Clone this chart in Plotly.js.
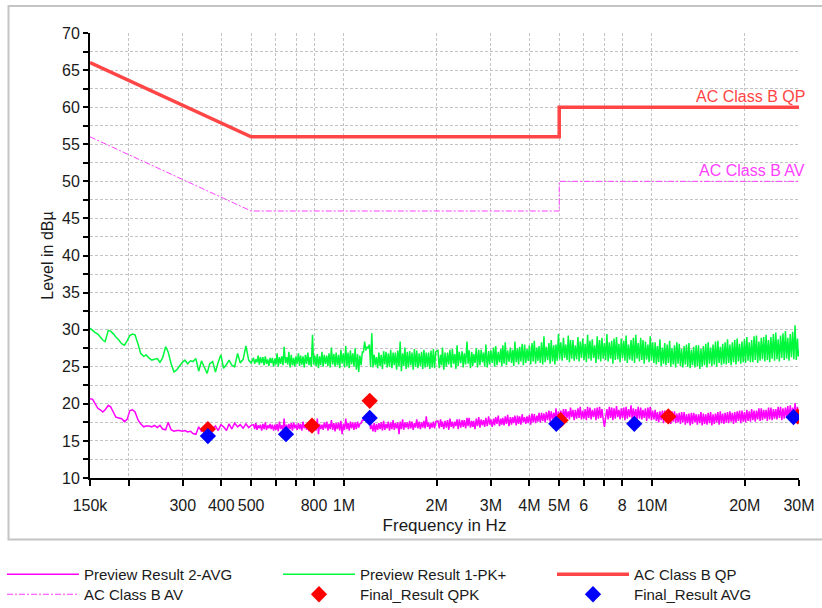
<!DOCTYPE html>
<html>
<head>
<meta charset="utf-8">
<script src="https://cdn.plot.ly/plotly-3.0.1.min.js"></script>
<style>
  html, body { margin: 0; padding: 0; background: #ffffff; }
  #chart { width: 822px; height: 608px; }
</style>
</head>
<body>
<div id="chart"></div>
<script>
// ---------- data (frequency in MHz, level in dBµV) ----------
const freqMHz = [
  0.150,0.153,0.156,0.159,0.162,0.165,0.168,0.172,0.175,0.179,
  0.182,0.186,0.190,0.194,0.198,0.202,0.206,0.210,0.215,0.219,
  0.224,0.228,0.233,0.238,0.243,0.248,0.253,0.258,0.264,0.269,
  0.275,0.281,0.287,0.293,0.299,0.305,0.311,0.318,0.324,0.331,
  0.338,0.345,0.352,0.360,0.367,0.375,0.383,0.391,0.399,0.407,
  0.416,0.424,0.433,0.442,0.452,0.461,0.471,0.481,0.491,0.500,
  0.509,0.518,0.527,0.536,0.546,0.556,0.566,0.576,0.586,0.597,
  0.607,0.618,0.629,0.640,0.652,0.663,0.675,0.687,0.699,0.712,
  0.724,0.737,0.750,0.764,0.777,0.791,0.805,0.820,0.834,0.849,
  0.864,0.880,0.895,0.911,0.928,0.944,0.961,0.978,0.996,1.014,
  1.032,1.050,1.069,1.088,1.108,1.127,1.148,1.168,1.189,1.210,
  1.232,1.254,1.276,1.299,1.322,1.346,1.370,1.394,1.419,1.445,
  1.470,1.497,1.523,1.551,1.578,1.606,1.635,1.664,1.694,1.724,
  1.755,1.787,1.819,1.851,1.884,1.918,1.952,1.987,
  2.02,2.06,2.09,2.13,2.17,2.21,2.25,2.29,2.33,2.37,
  2.42,2.46,2.51,2.55,2.60,2.64,2.69,2.74,2.79,2.84,
  2.89,2.95,3.00,3.06,3.11,3.17,3.23,3.28,3.34,3.40,
  3.47,3.53,3.59,3.66,3.72,3.79,3.86,3.93,4.00,4.08,
  4.15,4.23,4.30,4.38,4.46,4.54,4.63,4.71,4.80,4.88,
  4.97,5.06,5.16,5.25,5.35,5.44,5.54,5.64,5.75,5.85,
  5.96,6.07,6.18,6.29,6.40,6.52,6.64,6.76,6.88,7.01,
  7.14,7.27,7.40,7.53,7.67,7.81,7.95,8.10,8.24,8.39,
  8.55,8.70,8.86,9.02,9.19,9.35,9.52,9.70,9.87,10.05,
  10.24,10.42,10.61,10.81,11.00,11.20,11.41,11.61,11.83,12.04,
  12.26,12.48,12.71,12.94,13.18,13.42,13.66,13.91,14.16,14.42,
  14.68,14.95,15.22,15.50,15.78,16.07,16.36,16.66,16.96,17.27,
  17.58,17.90,18.23,18.56,18.90,19.24,19.59,19.95,20.31,20.68,
  21.06,21.44,21.83,22.23,22.63,23.04,23.46,23.89,24.32,24.77,
  25.22,25.67,26.14,26.62,27.10,27.59,28.10,28.61,29.13,29.66,
  30.00
];

// Preview Result 1-PK+ (green)
const pkPlus = [
  30.2,29.9,29.6,29.4,29.0,28.6,28.4,29.9,29.8,29.4,
  29.0,28.6,28.1,27.9,28.5,29.2,29.4,29.3,28.0,26.8,
  26.4,26.6,26.2,25.9,26.0,26.1,25.6,26.2,27.7,27.0,
  25.4,24.3,24.6,25.1,25.6,25.9,25.4,25.8,25.7,26.1,
  24.4,25.8,25.0,24.1,25.4,25.7,24.3,25.6,26.6,24.8,
  25.3,25.9,25.2,25.0,26.8,25.5,26.0,27.8,25.9,25.5,
  26.2,26.0,26.5,26.3,26.3,26.4,26.0,26.2,26.2,26.1,
  26.8,26.3,26.4,27.7,26.3,27.0,26.6,26.2,26.4,26.8,
  26.5,26.4,26.6,26.9,26.3,29.3,26.5,26.7,26.4,27.0,
  26.6,26.5,26.8,27.6,26.7,26.9,26.6,27.3,26.8,27.8,
  26.9,27.2,26.8,27.5,26.7,26.5,27.0,28.4,27.7,28.0,
  29.5,26.6,26.3,26.9,26.6,27.1,27.0,26.8,27.3,26.9,
  26.9,27.2,28.4,26.8,27.6,27.0,27.1,26.9,27.4,27.2,
  26.8,27.0,27.3,26.9,26.9,27.2,27.4,27.0,
  27.2,26.6,27.6,26.9,26.9,27.3,27.4,26.7,27.9,27.0,
  27.1,26.8,28.4,27.2,27.0,26.7,27.5,27.3,27.3,26.9,
  28.0,27.1,27.2,27.6,27.8,27.0,27.4,27.9,28.3,27.2,
  27.6,27.3,28.4,27.5,27.7,28.1,28.0,27.4,27.9,28.2,
  28.5,27.6,27.8,28.3,29.1,27.7,28.2,28.6,27.9,28.0,
  29.4,28.3,28.9,28.0,29.2,28.6,28.6,27.9,29.0,28.4,
  28.8,28.1,29.3,28.5,28.7,27.9,29.1,28.6,28.9,28.2,
  29.4,28.3,28.5,28.8,29.0,28.1,28.8,28.5,29.2,28.0,
  28.6,28.9,29.3,28.2,28.9,28.6,28.4,28.0,29.1,28.3,
  28.3,27.8,28.7,27.6,28.2,28.0,28.5,27.5,27.9,28.3,
  28.1,27.4,27.8,28.0,28.2,27.3,27.7,27.9,27.9,27.4,
  27.8,28.1,28.3,27.6,28.0,28.4,28.5,27.7,28.1,28.3,
  28.7,28.0,28.3,28.6,28.8,28.1,28.4,28.7,29.0,28.3,
  28.6,29.1,29.2,28.4,28.9,29.0,29.3,28.6,29.0,29.4,
  29.6,28.7,29.2,29.5,29.8,28.9,29.4,29.7,30.6,28.8,
  27.3
];

// Preview Result 2-AVG (magenta)
const avgLevel = [
  20.7,20.6,20.0,19.4,19.2,18.9,19.2,19.8,19.6,18.8,
  18.2,18.1,18.0,17.6,17.9,19.1,19.2,18.9,17.8,17.3,
  16.9,17.0,17.0,16.9,17.1,16.8,17.1,16.6,16.5,17.5,
  16.5,16.3,16.4,16.4,16.3,16.4,16.2,16.3,16.0,15.9,
  16.9,16.3,16.7,16.5,16.8,16.6,17.0,16.4,17.2,16.9,
  16.4,17.3,16.6,17.4,16.9,17.2,16.7,17.3,16.8,17.1,
  17.2,17.4,17.1,17.2,17.3,17.5,17.1,17.3,17.2,17.2,
  17.3,17.6,17.1,18.0,17.2,17.3,17.4,17.5,17.2,17.4,
  17.3,17.6,17.2,17.3,17.4,17.5,17.2,18.0,17.3,17.2,
  17.5,17.6,17.3,17.8,17.4,17.4,17.5,17.7,17.3,18.0,
  17.4,17.6,17.5,17.5,17.6,17.3,17.8,18.3,18.5,18.2,
  17.2,17.4,17.3,17.4,17.5,17.7,17.3,17.6,17.5,17.8,
  17.4,17.5,17.6,17.9,17.5,17.5,17.7,17.6,17.4,17.9,
  17.6,17.5,17.7,18.3,17.5,17.4,17.6,17.6,
  17.7,17.9,17.6,17.7,17.8,18.0,17.6,17.6,17.9,17.9,
  17.8,17.8,18.1,18.1,17.7,17.7,18.0,18.2,17.9,17.8,
  18.1,18.3,17.9,18.0,18.2,18.4,18.0,18.1,18.3,18.5,
  18.2,18.2,18.4,18.4,18.3,18.6,18.2,18.3,18.5,18.7,
  18.6,18.4,18.8,18.8,18.7,18.9,19.1,19.0,18.8,19.4,
  19.0,19.1,19.3,19.3,19.0,19.5,19.2,19.2,19.4,19.6,
  19.1,19.3,19.6,19.5,19.2,19.4,19.5,19.6,19.3,16.9,
  19.3,19.6,19.5,19.4,19.7,19.2,19.4,19.5,19.6,19.3,
  19.8,19.4,19.3,19.6,19.5,19.2,19.4,19.5,19.6,19.1,
  19.2,18.9,19.0,19.1,19.1,18.8,18.9,19.0,19.0,18.7,
  18.8,18.9,18.9,18.6,18.7,18.8,18.8,18.6,18.6,18.9,
  18.7,18.6,18.8,18.9,18.6,18.7,18.9,19.0,18.7,18.8,
  18.9,19.0,18.8,18.9,19.0,19.1,19.1,18.9,19.2,19.0,
  19.3,19.1,19.1,19.4,19.4,19.2,19.2,19.5,19.5,19.3,
  19.3,19.6,19.6,19.4,19.5,19.7,19.8,19.5,20.1,19.6,
  18.9
];

// Further scan points read in the dense part of the sweep (0.5–30 MHz)
const freqExtraMHz = [
  0.5135,0.5225,0.5315,0.541,0.551,0.561,0.571,0.581,0.5915,
  0.602,0.6125,0.6235,0.6345,0.646,0.6575,0.669,0.681,0.693,0.7055,
  0.718,0.7305,0.7435,0.757,0.7705,0.784,0.798,0.8125,0.827,0.8415,
  0.8565,0.872,0.8875,0.903,0.9195,0.936,0.9525,0.9695,0.987,1.005,
  1.023,1.041,1.0595,1.0785,1.098,1.1175,1.1375,1.158,1.1785,1.1995,
  1.221,1.243,1.265,1.2875,1.3105,1.334,1.358,1.382,1.4065,1.432,
  1.4575,1.4835,1.51,1.537,1.5645,1.592,1.6205,1.6495,1.679,1.709,
  1.7395,1.771,1.803,1.835,1.8675,1.901,1.935,1.9695,
  2.04,2.075,2.11,2.15,2.19,2.23,2.27,2.31,2.35,2.395,
  2.44,2.485,2.53,2.575,2.62,2.665,2.715,2.765,2.815,2.865,
  2.92,2.975,3.03,3.085,3.14,3.20,3.255,3.31,3.37,3.435,
  3.50,3.56,3.625,3.69,3.755,3.825,3.895,3.965,4.04,4.115,
  4.19,4.265,4.34,4.42,4.50,4.585,4.67,4.755,4.84,4.925,
  5.015,5.11,5.205,5.30,5.395,5.49,5.59,5.695,5.80,5.905,
  6.015,6.125,6.235,6.345,6.46,6.58,6.70,6.82,6.945,7.075,
  7.205,7.335,7.465,7.60,7.74,7.88,8.025,8.17,8.315,8.47,
  8.625,8.78,8.94,9.105,9.27,9.435,9.61,9.785,9.96,10.145,
  10.33,10.515,10.71,10.905,11.10,11.305,11.51,11.72,11.935,12.15,
  12.37,12.595,12.825,13.06,13.30,13.54,13.785,14.035,14.29,14.55,
  14.815,15.085,15.36,15.64,15.925,16.215,16.51,16.81,17.115,17.425,
  17.74,18.065,18.395,18.73,19.07,19.415,19.77,20.13,20.495,20.87,
  21.25,21.635,22.03,22.43,22.835,23.25,23.675,24.105,24.545,24.995,
  25.445,25.905,26.38,26.86,27.345,27.845,28.355,28.87,29.395,29.83
];

const pkPlusExtra = [
  25.4,25.6,25.3,25.5,25.2,25.4,25.1,25.5,25.0,
  25.3,25.0,25.4,25.2,25.5,25.3,24.9,25.2,25.0,25.4,
  25.1,25.3,24.9,25.4,25.2,25.0,25.3,25.1,24.8,25.2,
  25.0,25.4,25.1,24.9,25.3,25.0,25.2,24.8,25.4,24.9,
  25.1,24.8,25.3,25.0,24.6,24.3,25.2,27.0,27.2,27.5,
  25.0,24.9,25.2,24.8,25.1,24.7,25.3,24.9,25.0,24.8,
  25.2,24.6,25.0,24.4,25.1,24.7,24.9,25.2,24.6,25.0,
  24.8,25.1,24.7,24.9,25.0,24.7,24.9,24.8,
  24.8,25.2,24.6,25.0,25.3,24.9,25.4,24.7,25.1,25.5,
  24.9,25.3,25.4,24.8,25.1,25.5,24.9,25.2,25.6,25.0,
  24.9,25.3,25.5,25.0,25.2,25.6,25.1,25.4,25.2,25.7,
  25.5,25.1,25.6,25.3,25.7,25.2,25.5,25.8,25.3,25.7,
  25.4,25.8,25.5,25.3,25.6,25.9,25.4,25.7,25.3,25.8,
  26.0,25.8,26.2,25.9,25.6,26.1,25.8,26.0,25.7,26.2,
  25.9,25.6,26.1,25.8,26.2,25.5,26.0,25.7,26.1,25.9,
  25.7,26.1,25.4,25.9,26.0,25.6,26.2,25.8,25.5,26.0,
  25.8,25.5,26.1,25.7,25.9,25.4,26.0,25.6,25.8,25.5,
  25.3,25.6,25.1,25.4,25.2,25.5,25.0,25.3,24.9,25.4,
  25.1,24.9,25.3,25.0,24.8,25.2,24.9,25.1,24.7,25.0,
  25.2,24.9,25.4,25.1,25.3,25.0,25.5,25.2,25.4,25.3,
  25.5,25.2,25.6,25.3,25.7,25.4,25.6,25.5,25.8,25.6,
  25.6,25.9,25.5,25.8,26.0,25.7,25.9,25.6,26.1,25.8,
  26.0,25.7,26.2,25.9,26.1,25.8,26.3,26.0,25.9,26.4
];

const avgLevelExtra = [
  16.6,16.5,16.7,16.4,16.6,16.5,16.7,16.6,16.4,
  16.5,16.3,16.6,16.4,16.2,16.5,16.6,16.4,16.7,16.5,
  16.6,16.4,16.7,16.5,16.3,16.6,16.5,16.4,15.9,16.6,
  16.5,16.7,16.4,16.6,16.5,16.3,16.6,16.4,15.9,16.5,
  16.6,16.4,16.7,16.5,16.6,16.8,17.4,17.8,18.0,17.6,
  16.6,16.3,16.2,16.5,16.6,16.4,16.5,16.7,16.4,16.6,
  16.5,16.7,15.9,16.6,16.5,16.8,16.6,16.7,16.5,16.8,
  16.7,16.6,16.8,16.7,16.9,16.6,16.8,16.7,
  16.7,16.9,16.6,16.8,16.5,16.9,16.7,17.0,16.6,16.8,
  16.9,16.7,17.0,16.8,16.9,16.6,17.0,16.8,17.1,16.9,
  17.0,17.2,16.9,17.1,17.3,17.0,17.2,17.1,17.3,17.0,
  17.2,17.4,17.1,17.3,17.2,17.5,17.3,17.4,17.2,17.5,
  17.4,17.6,17.5,17.7,17.5,17.8,17.6,17.9,17.7,17.6,
  17.9,18.0,17.8,18.1,17.9,18.2,17.8,18.0,18.1,17.9,
  18.0,17.8,18.1,17.9,18.2,17.8,18.0,18.1,17.9,18.2,
  17.9,18.1,17.8,18.0,18.2,17.9,18.1,17.8,18.0,18.2,
  17.9,18.1,17.8,18.0,17.9,18.1,17.7,18.0,17.8,17.9,
  17.7,17.5,17.8,17.4,17.6,17.5,17.3,17.6,17.4,17.5,
  17.3,17.5,17.2,17.4,17.1,17.3,17.5,17.2,17.4,17.1,
  17.3,17.2,17.4,17.1,17.3,17.5,17.2,17.4,17.3,17.5,
  17.4,17.6,17.3,17.5,17.7,17.4,17.6,17.5,17.7,17.6,
  17.8,17.6,17.9,17.7,17.8,18.0,17.7,17.9,17.8,18.0,
  17.9,18.1,17.8,18.0,18.2,17.9,18.1,18.0,18.2,18.1
];

// Limit lines
const limitFreqMHz = [0.15, 0.5, 5, 5, 30];
const limitQP = [66, 56, 56, 60, 60];
const limitAV = [56, 46, 46, 50, 50];

// Final results
const qpkFreqMHz = [0.362, 0.788, 1.213, 5.05, 11.3, 29.7];
const qpkLevel = [16.6, 17.05, 20.4, 17.8, 18.3, 18.3];
const avgFreqMHz = [0.362, 0.649, 1.213, 4.89, 8.76, 28.8];
const avgFinalLevel = [15.66, 15.9, 18.1, 17.3, 17.3, 18.2];

// Axis ticks
const xTickVals = [0.15,0.2,0.3,0.4,0.5,0.6,0.7,0.8,1,2,3,4,5,6,7,8,10,20,30];
const xTickText = ['150k','','300','400','500','','','800','1M','2M','3M','4M','5M','6','','8','10M','20M','30M'];
const yTickVals = [10,12.5,15,17.5,20,22.5,25,27.5,30,32.5,35,37.5,40,42.5,45,47.5,50,52.5,55,57.5,60,62.5,65,67.5,70];
const yTickText = ['10','','15','','20','','25','','30','','35','','40','','45','','50','','55','','60','','65','','70'];

// ---------- merge scan points into one sweep, sorted by frequency ----------
const sweep = [];
freqMHz.forEach((f, i) => sweep.push([f, pkPlus[i], avgLevel[i]]));
freqExtraMHz.forEach((f, i) => sweep.push([f, pkPlusExtra[i], avgLevelExtra[i]]));
sweep.sort((a, b) => a[0] - b[0]);
const sweepF = sweep.map(p => p[0]);
const sweepPK = sweep.map(p => p[1]);
const sweepAV = sweep.map(p => p[2]);

// ---------- chart ----------
const FONT = '"Liberation Sans", Arial, Helvetica, sans-serif';
const TXT = '#1a1a1a';
const xRange = [Math.log10(0.15), Math.log10(30)];
const yRange = [10, 70];

function legendBox(px, py) {
  // px, py: top-left pixel of the legend item
  const l = 90, t = 33, w = 709, h = 445;
  return {
    x: (px - l) / w, y: (t + h - py) / h, xanchor: 'left', yanchor: 'top',
    orientation: 'v', bgcolor: 'rgba(0,0,0,0)', borderwidth: 0, itemwidth: 72,
    font: { family: FONT, size: 15, color: TXT }
  };
}

const traces = [
  { x: sweepF, y: sweepAV, type: 'scatter', mode: 'lines', name: 'Preview Result 2-AVG',
    line: { color: '#ff00ff', width: 1.5, simplify: false }, legend: 'legend' },
  { x: sweepF, y: sweepPK, type: 'scatter', mode: 'lines', name: 'Preview Result 1-PK+',
    line: { color: '#00f83c', width: 1.5, simplify: false }, legend: 'legend2' },
  { x: limitFreqMHz, y: limitQP, type: 'scatter', mode: 'lines', name: 'AC Class B QP',
    line: { color: '#ff4545', width: 3.5 }, legend: 'legend3' },
  { x: limitFreqMHz, y: limitAV, type: 'scatter', mode: 'lines', name: 'AC Class B AV',
    line: { color: '#ff40ff', width: 1, dash: '6px,2px,2px,2px' }, legend: 'legend4' },
  { x: qpkFreqMHz, y: qpkLevel, type: 'scatter', mode: 'markers', name: 'Final_Result QPK',
    marker: { symbol: 'diamond', size: 12.5, color: '#ff0000', line: { width: 0 } }, legend: 'legend5' },
  { x: avgFreqMHz, y: avgFinalLevel, type: 'scatter', mode: 'markers', name: 'Final_Result AVG',
    marker: { symbol: 'diamond', size: 12.5, color: '#0000ff', line: { width: 0 } }, legend: 'legend6' }
];

const layout = {
  width: 822, height: 608,
  margin: { l: 90, r: 23, t: 33, b: 130, autoexpand: false },
  paper_bgcolor: '#ffffff', plot_bgcolor: '#ffffff',
  font: { family: FONT, color: TXT, size: 16 },
  showlegend: true,
  xaxis: {
    type: 'log', range: xRange, tickmode: 'array', tickvals: xTickVals, ticktext: xTickText,
    ticks: 'outside', ticklen: 6, tickwidth: 2, tickcolor: '#000',
    showline: true, linecolor: '#000', linewidth: 2,
    showgrid: true, gridcolor: '#c4c4c4', gridwidth: 1, griddash: '3px,2px',
    zeroline: false, ticklabelstandoff: 6,
    tickfont: { family: FONT, size: 16, color: TXT },
    title: { text: 'Frequency in Hz', font: { family: FONT, size: 17, color: TXT }, standoff: 6 },
    automargin: false, fixedrange: true
  },
  xaxis2: {
    type: 'log', range: xRange, overlaying: 'x', anchor: 'y', side: 'bottom',
    tickmode: 'array', tickvals: xTickVals, ticktext: xTickVals.map(() => ''),
    ticks: 'inside', ticklen: 5, tickwidth: 2, tickcolor: '#000',
    showticklabels: false, showgrid: false, showline: false, zeroline: false, automargin: false
  },
  yaxis: {
    range: yRange, tickmode: 'array', tickvals: yTickVals, ticktext: yTickText,
    ticks: 'outside', ticklen: 5, tickwidth: 2, tickcolor: '#000',
    showline: true, linecolor: '#000', linewidth: 2,
    showgrid: true, gridcolor: '#c4c4c4', gridwidth: 1, griddash: '3px,2px',
    zeroline: false,
    tickfont: { family: FONT, size: 16, color: TXT },
    title: { text: 'Level in dBµ', font: { family: FONT, size: 16, color: TXT }, standoff: 4 },
    automargin: false, fixedrange: true
  },
  yaxis2: {
    range: yRange, overlaying: 'y', anchor: 'x', side: 'left',
    tickmode: 'array', tickvals: yTickVals, ticktext: yTickVals.map(() => ''),
    ticks: 'inside', ticklen: 6, tickwidth: 2, tickcolor: '#000',
    showticklabels: false, showgrid: false, showline: false, zeroline: false, automargin: false
  },
  legend: legendBox(2, 558),
  legend2: legendBox(278, 558),
  legend3: legendBox(552, 558),
  legend4: legendBox(2, 578),
  legend5: legendBox(278, 578),
  legend6: legendBox(552, 578),
  shapes: [
    { type: 'rect', xref: 'paper', yref: 'paper', layer: 'below',
      x0: (8.5 - 90) / 709, x1: (824 - 90) / 709,
      y0: (478 - 539.5) / 445, y1: (478 - 6) / 445,
      line: { color: '#c4c4c4', width: 2 }, fillcolor: 'rgba(0,0,0,0)' }
  ],
  annotations: [
    { xref: 'x', yref: 'y', x: Math.log10(limitFreqMHz[limitFreqMHz.length - 1]), y: limitQP[limitQP.length - 1],
      text: 'AC Class B QP', showarrow: false, xanchor: 'right', yanchor: 'bottom', xshift: 8, yshift: 0,
      font: { family: FONT, size: 16, color: '#ff4545' } },
    { xref: 'x', yref: 'y', x: Math.log10(limitFreqMHz[limitFreqMHz.length - 1]), y: limitAV[limitAV.length - 1],
      text: 'AC Class B AV', showarrow: false, xanchor: 'right', yanchor: 'bottom', xshift: 8, yshift: 0,
      font: { family: FONT, size: 16, color: '#ff40ff' } }
  ]
};

Plotly.newPlot('chart', traces, layout, { displayModeBar: false, staticPlot: true });
</script>
</body>
</html>
